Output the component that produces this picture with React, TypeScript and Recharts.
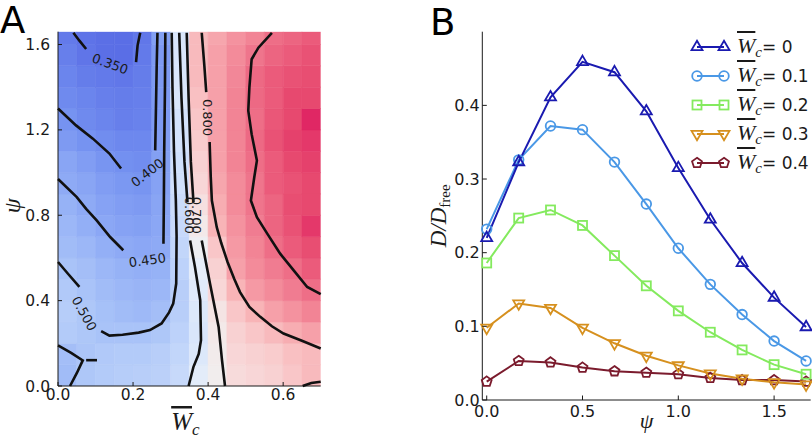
import React from 'react';
import { ComposedChart, LineChart, Line, Scatter, XAxis, YAxis, ReferenceArea, Label } from 'recharts';

// ---------- panel A : beta over (W_c, psi) ----------
const WC_EDGES = [0, 0.05, 0.1, 0.15, 0.2, 0.25, 0.3, 0.35, 0.4, 0.45, 0.5, 0.55, 0.6, 0.65, 0.7];
const PSI_EDGES = [0, 0.1, 0.2, 0.3, 0.4, 0.5, 0.6, 0.7, 0.8, 0.9, 1.0, 1.1, 1.2, 1.3, 1.4, 1.5, 1.6, 1.66];

// one row per psi band, bottom row first
const BETA = [
  [0.485, 0.51, 0.52, 0.525, 0.53, 0.535, 0.56, 0.63, 0.69, 0.73, 0.74, 0.75, 0.77, 0.79],
  [0.49, 0.505, 0.515, 0.52, 0.52, 0.53, 0.55, 0.61, 0.695, 0.74, 0.75, 0.76, 0.78, 0.79],
  [0.52, 0.51, 0.5, 0.5, 0.5, 0.51, 0.54, 0.6, 0.7, 0.75, 0.77, 0.79, 0.81, 0.83],
  [0.525, 0.51, 0.495, 0.485, 0.48, 0.49, 0.53, 0.61, 0.71, 0.77, 0.8, 0.83, 0.85, 0.87],
  [0.515, 0.5, 0.485, 0.475, 0.47, 0.475, 0.53, 0.62, 0.74, 0.8, 0.84, 0.86, 0.88, 0.9],
  [0.5, 0.49, 0.475, 0.465, 0.46, 0.465, 0.54, 0.64, 0.75, 0.83, 0.86, 0.88, 0.9, 0.92],
  [0.485, 0.475, 0.46, 0.45, 0.445, 0.45, 0.55, 0.67, 0.77, 0.84, 0.87, 0.9, 0.92, 0.935],
  [0.475, 0.46, 0.445, 0.435, 0.43, 0.445, 0.56, 0.7, 0.8, 0.85, 0.88, 0.91, 0.93, 0.95],
  [0.465, 0.45, 0.435, 0.425, 0.42, 0.44, 0.57, 0.72, 0.81, 0.86, 0.89, 0.91, 0.935, 0.94],
  [0.45, 0.44, 0.425, 0.415, 0.41, 0.435, 0.58, 0.74, 0.82, 0.86, 0.89, 0.92, 0.93, 0.94],
  [0.44, 0.425, 0.41, 0.4, 0.395, 0.43, 0.58, 0.75, 0.83, 0.87, 0.9, 0.92, 0.94, 0.945],
  [0.42, 0.405, 0.395, 0.385, 0.385, 0.425, 0.59, 0.76, 0.83, 0.87, 0.905, 0.93, 0.945, 0.95],
  [0.405, 0.39, 0.38, 0.37, 0.375, 0.42, 0.59, 0.77, 0.83, 0.87, 0.9, 0.925, 0.94, 0.96],
  [0.39, 0.38, 0.37, 0.365, 0.37, 0.42, 0.6, 0.78, 0.83, 0.87, 0.905, 0.92, 0.94, 0.94],
  [0.38, 0.365, 0.36, 0.355, 0.365, 0.42, 0.6, 0.79, 0.83, 0.865, 0.905, 0.92, 0.93, 0.935],
  [0.37, 0.352, 0.34, 0.338, 0.36, 0.42, 0.6, 0.79, 0.83, 0.86, 0.89, 0.91, 0.92, 0.93],
  [0.36, 0.348, 0.34, 0.338, 0.355, 0.43, 0.6, 0.79, 0.82, 0.85, 0.87, 0.9, 0.91, 0.92],
];

const BETA_TICKS = [0.4, 0.5, 0.6, 0.7, 0.8, 0.9];
const BETA_RANGE = [0.337, 0.972];
const CMAP_VALUES = [0.337, 0.4, 0.45, 0.5, 0.55, 0.6, 0.65, 0.69, 0.72, 0.76, 0.8, 0.85, 0.9, 0.94, 0.972];
const CMAP_COLORS = ['#5a6de6', '#7390f0', '#8eaaf5', '#a9c3f8', '#c2d6fa', '#d9e6fb', '#eaf0f8', '#f1eded',
  '#f6e0e0', '#f9cccd', '#f8b4b7', '#f4929f', '#ee6e87', '#e7496f', '#dc135e'];

// contour lines, split where matplotlib left a gap for the inline label
const C350A = [[0.041, 1.655], [0.057, 1.618], [0.075, 1.579]];
const C350B = [[0.208, 1.517], [0.212, 1.595], [0.219, 1.655]];
const C400A = [[0, 1.3], [0.048, 1.221], [0.093, 1.159], [0.137, 1.089], [0.168, 1.019]];
const C400B = [[0.259, 1.104], [0.261, 1.3], [0.263, 1.5], [0.265, 1.655]];
const C450A = [[0, 0.97], [0.05, 0.885], [0.075, 0.83], [0.103, 0.776], [0.139, 0.698], [0.174, 0.636]];
const C450B = [[0.281, 0.667], [0.282, 0.85], [0.283, 1.1], [0.285, 1.4], [0.286, 1.655]];
const C500A = [[0, 0.581], [0.026, 0.527], [0.057, 0.464]];
const C500B = [[0.115, 0.257], [0.137, 0.236], [0.172, 0.24], [0.215, 0.25], [0.245, 0.262], [0.276, 0.293],
  [0.296, 0.345], [0.307, 0.386], [0.315, 0.48], [0.316, 0.7], [0.314, 0.87], [0.309, 1.1], [0.305, 1.4], [0.303, 1.655]];
const C500C = [[0, 0.19], [0.035, 0.155], [0.066, 0.12], [0.05, 0.06], [0.032, 0]];
const C500D = [[0.075, 0.121], [0.104, 0.121]];
const C600A = [[0.323, 1.655], [0.329, 1.35], [0.337, 1.05], [0.345, 0.86]];
const C600B = [[0.352, 0.682], [0.365, 0.557], [0.379, 0.402], [0.381, 0.215], [0.375, 0.15], [0.361, 0.09], [0.348, 0]];
const C700A = [[0.343, 1.655], [0.348, 1.35], [0.354, 1.05], [0.361, 0.86]];
const C700B = [[0.383, 0.682], [0.405, 0.48], [0.428, 0.277], [0.437, 0.121], [0.445, 0]];
const C800A = [[0.383, 1.655], [0.39, 1.5], [0.395, 1.377]];
const C800B = [[0.404, 1.143], [0.407, 0.98], [0.41, 0.869], [0.423, 0.744], [0.435, 0.67], [0.452, 0.58], [0.47, 0.5],
  [0.485, 0.44], [0.51, 0.37], [0.539, 0.324], [0.57, 0.28], [0.601, 0.246], [0.65, 0.212], [0.7, 0.176]];
const C800C = [[0.652, 0], [0.675, 0.014], [0.7, 0.02]];
const C900 = [[0.57, 1.655], [0.534, 1.585], [0.516, 1.531], [0.51, 1.399], [0.507, 1.29], [0.516, 1.18], [0.53, 1.056],
  [0.523, 0.978], [0.514, 0.869], [0.53, 0.791], [0.558, 0.713], [0.592, 0.62], [0.628, 0.542], [0.664, 0.464], [0.7, 0.43]];

const CONTOUR_LABELS = [
  { x: 0.139, y: 1.51, text: '0.350', angle: 20 },
  { x: 0.238, y: 1.0, text: '0.400', angle: -38 },
  { x: 0.238, y: 0.59, text: '0.450', angle: -8 },
  { x: 0.07, y: 0.34, text: '0.500', angle: 61 },
  { x: 0.352, y: 0.8, text: '0.600', angle: 90 },
  { x: 0.37, y: 0.8, text: '0.700', angle: 90 },
  { x: 0.4, y: 1.258, text: '0.800', angle: 90 },
];

const WC_TICKS = [0, 0.2, 0.4, 0.6];
const PSI_TICKS = [0, 0.4, 0.8, 1.2, 1.6];

// ---------- panel B : D / D_free vs psi ----------
const PSI = [0, 0.167, 0.333, 0.5, 0.667, 0.833, 1.0, 1.167, 1.333, 1.5, 1.667];
const D_W00 = [0.22, 0.323, 0.411, 0.459, 0.445, 0.392, 0.315, 0.245, 0.186, 0.139, 0.099];
const D_W01 = [0.232, 0.326, 0.372, 0.367, 0.323, 0.266, 0.206, 0.157, 0.116, 0.08, 0.053];
const D_W02 = [0.186, 0.247, 0.258, 0.237, 0.196, 0.155, 0.121, 0.092, 0.068, 0.048, 0.035];
const D_W03 = [0.098, 0.131, 0.125, 0.098, 0.077, 0.06, 0.047, 0.036, 0.029, 0.024, 0.021];
const D_W04 = [0.025, 0.053, 0.051, 0.044, 0.039, 0.037, 0.035, 0.03, 0.027, 0.027, 0.025];

const SERIES = [
  { key: 'w0', label: '0', values: D_W00, color: '#1a1ab0', marker: 'tri' },
  { key: 'w1', label: '0.1', values: D_W01, color: '#4a98e6', marker: 'circle' },
  { key: 'w2', label: '0.2', values: D_W02, color: '#84ea5e', marker: 'square' },
  { key: 'w3', label: '0.3', values: D_W03, color: '#d6901e', marker: 'triDown' },
  { key: 'w4', label: '0.4', values: D_W04, color: '#7b1b2d', marker: 'pentagon' },
];

const PSI_B_TICKS = [0, 0.5, 1.0, 1.5];
const D_TICKS = [0, 0.1, 0.2, 0.3, 0.4];

// ---------- helpers ----------
const SANS = 'DejaVu Sans, sans-serif';
const MATH = 'Liberation Serif, serif';
const INK = '#1a1a1a';

function hexRgb(c: string) {
  return [1, 3, 5].map((i) => parseInt(c.slice(i, i + 2), 16));
}

function betaColor(v: number) {
  if (v <= CMAP_VALUES[0]) return CMAP_COLORS[0];
  for (let i = 1; i < CMAP_VALUES.length; i++) {
    if (v <= CMAP_VALUES[i]) {
      const t = (v - CMAP_VALUES[i - 1]) / (CMAP_VALUES[i] - CMAP_VALUES[i - 1]);
      const a = hexRgb(CMAP_COLORS[i - 1]);
      const b = hexRgb(CMAP_COLORS[i]);
      return `rgb(${a.map((ai, k) => Math.round(ai + (b[k] - ai) * t)).join(',')})`;
    }
  }
  return CMAP_COLORS[CMAP_COLORS.length - 1];
}

const heatCells = BETA.flatMap((row, i) =>
  row.map((v, j) => ({
    x1: WC_EDGES[j], x2: WC_EDGES[j + 1], y1: PSI_EDGES[i], y2: PSI_EDGES[i + 1], fill: betaColor(v),
  }))
);

const contours = [C350A, C350B, C400A, C400B, C450A, C450B, C500A, C500B, C500C, C500D,
  C600A, C600B, C700A, C700B, C800A, C800B, C800C, C900].map((pts) => pts.map(([x, y]) => ({ x, y })));

const tableB = PSI.map((psi, i) => {
  const row: any = { psi };
  SERIES.forEach((s) => { row[s.key] = s.values[i]; });
  return row;
});

// matplotlib style: ticks point inward, on all four sides
function inTick(side: 'bottom' | 'left' | 'top' | 'right', len: number, margin: number, fontSize: number, fmt?: (v: number) => string) {
  return (p: any) => {
    const { x, y, payload } = p;
    const v = payload.value;
    let line;
    let text = null;
    if (side === 'bottom') {
      const ay = y - margin;
      line = <line x1={x} x2={x} y1={ay} y2={ay - len} stroke={INK} />;
      if (fmt) text = <text x={x} y={y} dy="0.72em" textAnchor="middle">{fmt(v)}</text>;
    } else if (side === 'top') {
      const ay = y + margin;
      line = <line x1={x} x2={x} y1={ay} y2={ay + len} stroke={INK} />;
    } else if (side === 'left') {
      const ax = x + margin;
      line = <line x1={ax} x2={ax + len} y1={y} y2={y} stroke={INK} />;
      if (fmt) text = <text x={x} y={y} dy="0.36em" textAnchor="end">{fmt(v)}</text>;
    } else {
      const ax = x - margin;
      line = <line x1={ax} x2={ax - len} y1={y} y2={y} stroke={INK} />;
      if (fmt) text = <text x={x} y={y} dy="0.36em" textAnchor="start">{fmt(v)}</text>;
    }
    return (
      <g fontFamily={SANS} fontSize={fontSize} fill={INK}>
        {line}
        {text}
      </g>
    );
  };
}

const f1 = (v: number) => v.toFixed(1);
const NoDot = () => <g />;

const ContourText = (p: any) => {
  const { cx, cy, payload } = p;
  return (
    <text x={cx} y={cy} dy="0.36em" textAnchor="middle" fontFamily={SANS} fontSize={13} fill={INK}
      transform={`rotate(${payload.angle} ${cx} ${cy})`}>
      {payload.text}
    </text>
  );
};

function Marker({ kind, cx, cy, color }: { kind: string; cx: number; cy: number; color: string }) {
  const common = { fill: 'none', stroke: color, strokeWidth: 1.8 };
  if (kind === 'circle') return <circle cx={cx} cy={cy} r={4.8} {...common} />;
  if (kind === 'square') return <rect x={cx - 4.5} y={cy - 4.5} width={9} height={9} {...common} />;
  if (kind === 'tri' || kind === 'triDown') {
    const r = 6.3;
    const s = kind === 'tri' ? 1 : -1;
    const pts = [[cx, cy - s * r], [cx + r * 0.87, cy + s * r * 0.5], [cx - r * 0.87, cy + s * r * 0.5]];
    return <polygon points={pts.map((q) => q.join(',')).join(' ')} {...common} />;
  }
  const r = 5.2;
  const pts = [0, 1, 2, 3, 4].map((k) => {
    const a = -Math.PI / 2 + (k * 2 * Math.PI) / 5;
    return `${cx + r * Math.cos(a)},${cy + r * Math.sin(a)}`;
  });
  return <polygon points={pts.join(' ')} {...common} />;
}

// ---------- panels ----------
function PanelA() {
  return (
    <ComposedChart width={330} height={438} margin={{ top: 31.7, right: 9.3, bottom: 22, left: 18 }}>
      <XAxis type="number" dataKey="x" domain={[0, 0.7]} ticks={WC_TICKS} interval={0} height={30}
        tickSize={0} tickMargin={3} stroke={INK} tick={inTick('bottom', 4, 3, 15.5, f1)}>
        <Label content={(p: any) => {
          const vb = p.viewBox;
          const cx = vb.x + vb.width / 2 - 4;
          return (
            <text x={cx} y={vb.y + 44} textAnchor="middle" fontFamily={MATH} fontStyle="italic" fill={INK}>
              <tspan fontSize={25} style={{ textDecoration: 'overline' }}>W</tspan>
              <tspan fontSize={17} dy={5}>c</tspan>
            </text>
          );
        }} />
      </XAxis>
      <XAxis xAxisId="top" orientation="top" type="number" domain={[0, 0.7]} ticks={WC_TICKS} interval={0}
        height={0} tickSize={0} tickMargin={0} stroke={INK} tick={inTick('top', 4, 0, 15)} />
      <YAxis type="number" dataKey="y" domain={[0, 1.66]} ticks={PSI_TICKS} interval={0} width={40}
        tickSize={0} tickMargin={8} stroke={INK} tick={inTick('left', 4, 8, 15.5, f1)}>
        <Label content={(p: any) => {
          const vb = p.viewBox;
          const cy = vb.y + vb.height / 2 - 3;
          return (
            <text x={20} y={cy} textAnchor="middle" fontFamily={MATH} fontStyle="italic" fontSize={24} fill={INK}
              transform={`rotate(-90 20 ${cy})`}>ψ</text>
          );
        }} />
      </YAxis>
      <YAxis yAxisId="right" orientation="right" type="number" domain={[0, 1.66]} ticks={PSI_TICKS} interval={0}
        width={0} tickSize={0} tickMargin={0} stroke={INK} tick={inTick('right', 4, 0, 15)} />
      {heatCells.map((c, i) => (
        <ReferenceArea key={i} x1={c.x1} x2={c.x2} y1={c.y1} y2={c.y2} fill={c.fill} fillOpacity={1}
          stroke={c.fill} strokeWidth={0.6} ifOverflow="hidden" />
      ))}
      {contours.map((pts, i) => (
        <Scatter key={i} data={pts} line={{ stroke: '#111', strokeWidth: 2.6 }} lineType="joint"
          shape={NoDot} isAnimationActive={false} />
      ))}
      <Scatter data={CONTOUR_LABELS} shape={ContourText} isAnimationActive={false} />
    </ComposedChart>
  );
}

function ColorBar() {
  const span = BETA_RANGE[1] - BETA_RANGE[0];
  return (
    <ComposedChart width={64} height={438} margin={{ top: 31.7, right: 0, bottom: 52, left: 0 }}>
      <defs>
        <linearGradient id="cbar" x1="0" y1="1" x2="0" y2="0">
          {CMAP_VALUES.map((v, i) => (
            <stop key={i} offset={`${((v - BETA_RANGE[0]) / span) * 100}%`} stopColor={CMAP_COLORS[i]} />
          ))}
        </linearGradient>
      </defs>
      <XAxis type="number" domain={[0, 1]} hide />
      <YAxis orientation="right" type="number" domain={BETA_RANGE} ticks={BETA_TICKS} interval={0} width={45.7}
        axisLine={false} tickSize={0} tickMargin={5.7} tick={inTick('right', 4, 5.7, 15, f1)} />
      <ReferenceArea x1={0} x2={1} y1={BETA_RANGE[0]} y2={BETA_RANGE[1]} fill="url(#cbar)" fillOpacity={1}
        stroke={INK} strokeWidth={1}
        label={{ value: 'β', position: 'top', offset: 7, fontSize: 24, fontStyle: 'italic', fontFamily: MATH, fill: INK }} />
    </ComposedChart>
  );
}

function PanelB() {
  return (
    <LineChart width={412} height={438} data={tableB} margin={{ top: 31.7, right: 1.3, bottom: 8, left: 32.3 }}>
      <XAxis type="number" dataKey="psi" domain={[-0.023, 1.691]} ticks={PSI_B_TICKS} interval={0} height={30}
        tickSize={0} tickMargin={5} stroke={INK} tick={inTick('bottom', 4.5, 5, 16, f1)}>
        <Label content={(p: any) => {
          const vb = p.viewBox;
          return (
            <text x={vb.x + vb.width / 2} y={vb.y + 28} textAnchor="middle" fontFamily={MATH} fontStyle="italic"
              fontSize={22} fill={INK}>ψ</text>
          );
        }} />
      </XAxis>
      <XAxis xAxisId="top" orientation="top" type="number" domain={[-0.023, 1.691]} ticks={PSI_B_TICKS} interval={0}
        height={0} tickSize={0} tickMargin={0} stroke={INK} tick={inTick('top', 4.5, 0, 15)} />
      <YAxis type="number" domain={[0, 0.5]} ticks={D_TICKS} interval={0} width={50}
        tickSize={0} tickMargin={2.5} stroke={INK} tick={inTick('left', 4.5, 2.5, 16, f1)}>
        <Label content={(p: any) => {
          const vb = p.viewBox;
          const cy = vb.y + vb.height / 2;
          const x = 46;
          return (
            <text x={x} y={cy} textAnchor="middle" fontFamily={MATH} fontSize={23} fill={INK}
              transform={`rotate(-90 ${x} ${cy})`}>
              <tspan fontStyle="italic">D/D</tspan>
              <tspan fontSize={15} dy={4}>free</tspan>
            </text>
          );
        }} />
      </YAxis>
      <YAxis yAxisId="right" orientation="right" type="number" domain={[0, 0.5]} ticks={D_TICKS} interval={0}
        width={0} tickSize={0} tickMargin={0} stroke={INK} tick={inTick('right', 4.5, 0, 15)} />
      {SERIES.slice().reverse().map((s) => (
        <Line key={s.key} dataKey={s.key} stroke={s.color} strokeWidth={2} isAnimationActive={false} activeDot={false}
          dot={(p: any) => <Marker key={`${s.key}-${p.index}`} kind={s.marker} cx={p.cx} cy={p.cy} color={s.color} />} />
      ))}
    </LineChart>
  );
}

function LegendB() {
  return (
    <div style={{ position: 'absolute', left: 688, top: 32, width: 124 }}>
      {SERIES.map((s) => (
        <div key={s.key} style={{ height: 29, display: 'flex', alignItems: 'center' }}>
          <svg width={46} height={20}>
            <line x1={9} x2={36} y1={10} y2={10} stroke={s.color} strokeWidth={2} />
            <Marker kind={s.marker} cx={9} cy={10} color={s.color} />
            <Marker kind={s.marker} cx={36} cy={10} color={s.color} />
          </svg>
          <span style={{ marginLeft: 3, whiteSpace: 'nowrap', color: INK, lineHeight: '20px' }}>
            <span style={{ fontFamily: MATH, fontStyle: 'italic', fontSize: 22, textDecoration: 'overline' }}>W</span>
            <span style={{ fontFamily: MATH, fontStyle: 'italic', fontSize: 15, position: 'relative', top: 4 }}>c</span>
            <span style={{ fontFamily: SANS, fontSize: 17 }}>{`= ${s.label}`}</span>
          </span>
        </div>
      ))}
    </div>
  );
}

export default function App() {
  return (
    <div style={{ position: 'fixed', left: 0, top: 0, width: 812, height: 438, background: '#fff', overflow: 'hidden' }}>
      <div style={{ position: 'absolute', left: 0, top: 0 }}><PanelA /></div>
      <div style={{ position: 'absolute', left: 336, top: 0 }}><ColorBar /></div>
      <div style={{ position: 'absolute', left: 400, top: 0 }}><PanelB /></div>
      <LegendB />
      <svg width={812} height={438} style={{ position: 'absolute', left: 0, top: 0, pointerEvents: 'none' }}>
        <text x={0} y={33} fontFamily={SANS} fontSize={37} fill="#000">A</text>
        <text x={430} y={35} fontFamily={SANS} fontSize={37} fill="#000">B</text>
      </svg>
    </div>
  );
}
